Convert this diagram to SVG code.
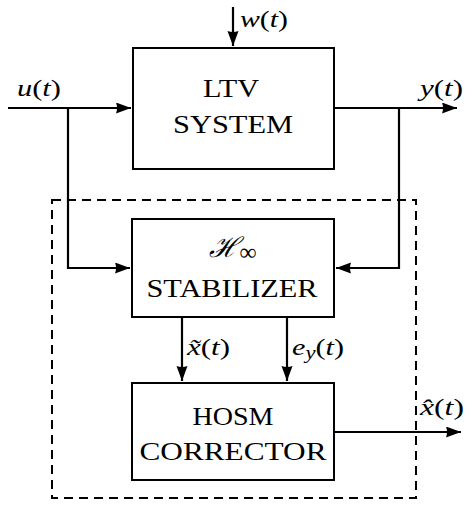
<svg xmlns="http://www.w3.org/2000/svg" width="465" height="506" viewBox="0 0 465 506">
<defs>
<marker id="arr" markerUnits="userSpaceOnUse" markerWidth="16" markerHeight="12" refX="15" refY="5.5" orient="auto">
<path d="M0,0 L15,5.5 L0,11 Q2,5.5 0,0 Z" fill="#000"/>
</marker>
<style>
.box{fill:#fff;stroke:#000;stroke-width:2}
.ln{fill:none;stroke:#000;stroke-width:2.2}
.dash{fill:none;stroke:#000;stroke-width:2;stroke-dasharray:9 6}
</style>
</defs>
<rect width="465" height="506" fill="#fff"/>
<rect class="dash" x="52" y="200" width="364" height="298"/>
<g id="connectors">
<path class="ln" d="M8,108 H131" marker-end="url(#arr)"/>
<path class="ln" d="M233,7 V46" marker-end="url(#arr)"/>
<path class="ln" d="M334,108 H457" marker-end="url(#arr)"/>
<path class="ln" d="M68,108 V268 H130" marker-end="url(#arr)"/>
<path class="ln" d="M399,108 V268 H336" marker-end="url(#arr)"/>
<path class="ln" d="M182,317 V381" marker-end="url(#arr)"/>
<path class="ln" d="M287,317 V381" marker-end="url(#arr)"/>
<path class="ln" d="M334,432 H461" marker-end="url(#arr)"/>
</g>
<g id="ltv">
<rect class="box" x="133" y="48" width="201" height="121"/>
<text font-family="Liberation Serif" font-size="26" text-anchor="middle" x="231" y="97" textLength="56" lengthAdjust="spacingAndGlyphs">LTV</text>
<text font-family="Liberation Serif" font-size="26" text-anchor="middle" x="233" y="133" textLength="120" lengthAdjust="spacingAndGlyphs">SYSTEM</text>
</g>
<g id="stabilizer">
<rect class="box" x="132" y="219" width="202" height="98"/>
<text font-family="Liberation Serif" font-size="26" text-anchor="middle" x="233" y="257"><tspan font-style="italic" font-size="28">ℋ</tspan><tspan font-size="24" dy="3">∞</tspan></text>
<text font-family="Liberation Serif" font-size="26" text-anchor="middle" x="232" y="297" textLength="171" lengthAdjust="spacingAndGlyphs">STABILIZER</text>
</g>
<g id="hosm">
<rect class="box" x="132" y="383" width="202" height="97"/>
<text font-family="Liberation Serif" font-size="26" text-anchor="middle" x="233" y="425" textLength="81" lengthAdjust="spacingAndGlyphs">HOSM</text>
<text font-family="Liberation Serif" font-size="26" text-anchor="middle" x="233" y="460" textLength="187" lengthAdjust="spacingAndGlyphs">CORRECTOR</text>
</g>
<g id="labels" font-family="Liberation Serif" font-size="24">
<text x="240" y="27" textLength="48" lengthAdjust="spacingAndGlyphs"><tspan font-style="italic">w</tspan>(<tspan font-style="italic">t</tspan>)</text>
<text x="17" y="96" textLength="44" lengthAdjust="spacingAndGlyphs"><tspan font-style="italic">u</tspan>(<tspan font-style="italic">t</tspan>)</text>
<text x="420" y="96" textLength="43" lengthAdjust="spacingAndGlyphs"><tspan font-style="italic">y</tspan>(<tspan font-style="italic">t</tspan>)</text>
<text x="187" y="355" textLength="43" lengthAdjust="spacingAndGlyphs"><tspan font-style="italic">x̃</tspan>(<tspan font-style="italic">t</tspan>)</text>
<text x="292" y="355" textLength="52" lengthAdjust="spacingAndGlyphs"><tspan font-style="italic">e</tspan><tspan font-style="italic" font-size="18" dy="4">y</tspan><tspan dy="-4">(</tspan><tspan font-style="italic">t</tspan>)</text>
<text x="420" y="415" textLength="44" lengthAdjust="spacingAndGlyphs"><tspan font-style="italic">x̂</tspan>(<tspan font-style="italic">t</tspan>)</text>
</g>
</svg>
